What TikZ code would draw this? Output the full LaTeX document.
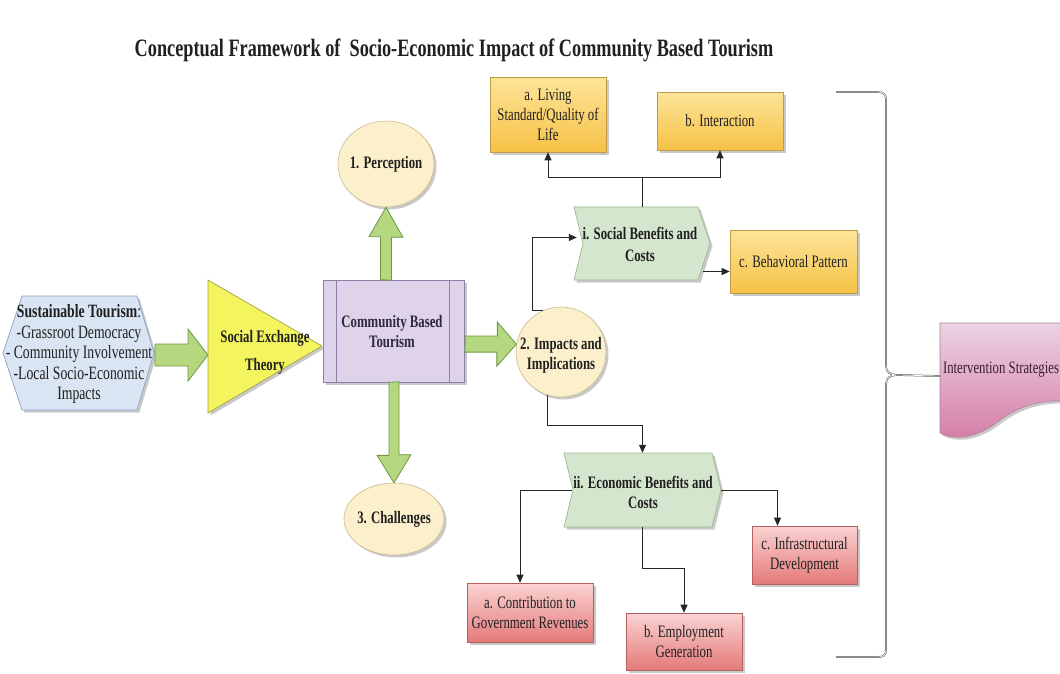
\documentclass[tikz,border=0pt]{standalone}
\usepackage{fontspec}
\setmainfont{Liberation Serif}[FakeStretch=0.73]
\usetikzlibrary{shapes.geometric,shadows,arrows.meta,calc}
\definecolor{textc}{HTML}{202020}
\definecolor{hexfill}{HTML}{DAE5F3}
\definecolor{hexdraw}{HTML}{8AA2C0}
\definecolor{trifill}{HTML}{F4F45E}
\definecolor{tridraw}{HTML}{A3A345}
\definecolor{cbtfill}{HTML}{DED3EA}
\definecolor{cbtdraw}{HTML}{8E7FA8}
\definecolor{garfill}{HTML}{B4D77F}
\definecolor{gardraw}{HTML}{6E9842}
\definecolor{ellfill}{HTML}{FCEFCB}
\definecolor{elldraw}{HTML}{CDB98A}
\definecolor{chevfill}{HTML}{D5E6CF}
\definecolor{chevdraw}{HTML}{9CB890}
\definecolor{otop}{HTML}{FDE49A}
\definecolor{obot}{HTML}{F6C246}
\definecolor{odraw}{HTML}{C09A45}
\definecolor{rtop}{HTML}{FAD3D2}
\definecolor{rbot}{HTML}{E47A79}
\definecolor{rdraw}{HTML}{B5605E}
\definecolor{itop}{HTML}{EBD3E3}
\definecolor{ibot}{HTML}{D57BA6}
\definecolor{idraw}{HTML}{A78598}
\definecolor{cbttext}{HTML}{30283C}
\definecolor{invtext}{HTML}{3A1E30}
\begin{document}
\begin{tikzpicture}[x=1pt,y=-1pt,
  txt/.style={font=\fontsize{17.5}{20}\selectfont, text=textc, align=center, inner sep=0pt},
  btxt/.style={font=\fontsize{17.5}{20}\selectfont\bfseries, text=textc, align=center, inner sep=0pt},
  shad/.style={drop shadow={shadow xshift=2.5pt, shadow yshift=-2.5pt, opacity=0.3, fill=black!70}},
  obox/.style={txt, draw=odraw, line width=0.6pt, top color=otop, bottom color=obot, shad},
  rbox/.style={txt, draw=rdraw, line width=0.6pt, top color=rtop, bottom color=rbot, shad},
  ellip/.style={ellipse, draw=elldraw, line width=0.6pt, fill=ellfill, inner sep=0pt, shad},
  garrow/.style={draw=gardraw, fill=garfill, line width=0.8pt, line join=miter},
  chev/.style={draw=chevdraw, fill=chevfill, line width=0.7pt, shad},
  conn/.style={draw=black!85, line width=1pt, -{Triangle[length=8pt,width=7pt]}},
  bracesty/.style={draw=black!70, double=white, double distance=0.7pt, line width=0.5pt}
]
\useasboundingbox (0,0) rectangle (1060,673);
\clip (0,0) rectangle (1060,673);

% title
\node[font=\fontsize{25}{28}\selectfont\bfseries, text=textc, inner sep=0pt] (title) at (454,50)
  {Conceptual Framework of\ \ Socio-Economic Impact of Community Based Tourism};

% hexagon
\path[draw=hexdraw, fill=hexfill, line width=0.7pt, shad]
  (3,353) coordinate (hexW) -- (22,296) -- (137,296) -- (154,353) coordinate (hexE) -- (137,410) -- (22,410) -- cycle;
% triangle
\path[draw=tridraw, fill=trifill, line width=0.7pt, shad]
  (208,280) -- (322,346) coordinate (triE) -- (208,413) -- cycle;
\coordinate (triW) at (208,355);
\coordinate (hexA) at (155,355);

% community based tourism
\node[draw=cbtdraw, fill=cbtfill, line width=0.7pt, minimum width=141, minimum height=102, inner sep=0pt, shad] (cbt) at (393.5,331) {};
\draw[cbtdraw, line width=0.7pt] ($(cbt.north west)+(14,0)$) -- ($(cbt.south west)+(14,0)$);
\draw[cbtdraw, line width=0.7pt] ($(cbt.north east)+(-15,0)$) -- ($(cbt.south east)+(-15,0)$);

% ellipses
\node[ellip, minimum width=96, minimum height=86] (perc) at (386,164) {};
\node[ellip, minimum width=100, minimum height=72] (chal) at (394,519) {};
\node[ellip, minimum width=90, minimum height=90] (imp) at (561,352) {};

% chevrons
\path[chev] (574,207) -- (698,207) -- (710,243.5) -- (698,280) -- (574,280) -- (583,243.5) -- cycle;
\path[chev] (564,453) -- (712,453) -- (721,490) -- (712,527) -- (564,527) -- (573,490) -- cycle;

% intervention shape
\path[draw=idraw, top color=itop, bottom color=ibot, line width=0.6pt, shad]
  (940,323) -- (1075,323) -- (1075,402)
  .. controls (1045,398) and (1020,405) .. (1000,420)
  .. controls (980,436) and (958,442) .. (940,433) -- cycle;
\coordinate (invw) at (940,376);

% green arrows
\draw[garrow] (hexA) ++(0,-11) -- ++(33,0) -- ++(0,-15) -- (triW) -- ++(-20,26) -- ++(0,-15) -- ++(-33,0) -- cycle;
\coordinate (ua) at ($(cbt.north)+(-7.5,0)$);
\draw[garrow] (ua) ++(-5.5,0) -- ++(0,-43) -- ++(-11.5,0) -- (perc.south) -- ++(17,30) -- ++(-11.5,0) -- ++(0,43) -- cycle;
\coordinate (da) at ($(cbt.south)+(0.5,0)$);
\draw[garrow] (da) ++(-5,0) -- ++(0,73) -- ++(-12,0) -- (chal.north) -- ++(17,-28) -- ++(-12,0) -- ++(0,-73) -- cycle;
\coordinate (ra) at ($(cbt.east)+(1,13)$);
\draw[garrow] (ra) ++(0,-8) -- ++(32,0) -- ++(0,-14) -- (imp.170) -- ++(-19.5,22) -- ++(0,-14) -- ++(-32,0) -- cycle;

% text nodes
\node[txt, font=\fontsize{18.8}{20.5}\selectfont] (sust) at (79,354)
  {\textbf{Sustainable Tourism}:\\-Grassroot Democracy\\- Community Involvement\\-Local Socio-Economic\\Impacts};
\node[btxt] (set) at (265,352) {Social Exchange\\[8pt]Theory};
\node[btxt, text=cbttext] (cbtt) at (392,332) {Community Based\\Tourism};
\node[btxt] (perct) at (perc) {1. Perception};
\node[btxt] (chalt) at (chal) {3. Challenges};
\node[btxt] (impt) at (561,355) {2. Impacts and\\Implications};
\node[btxt, minimum width=136, minimum height=73] (soc) at (642,243.5) {};
\node[btxt, font=\fontsize{17.5}{22}\selectfont\bfseries] (soct) at (640,244) {i. Social Benefits and\\Costs};
\node[btxt, minimum width=157, minimum height=74] (eco) at (642.5,490) {};
\node[btxt] (ecot) at (643,492) {ii. Economic Benefits and\\Costs};
\node[txt, text=invtext] (invt) at (1001,370) {Intervention Strategies};

% orange boxes
\node[obox, minimum width=116, minimum height=75] (living) at (548,114.5) {a. Living\\Standard/Quality of\\Life};
\node[obox, minimum width=126, minimum height=58] (inter) at (720,121) {b. Interaction};
\node[obox, minimum width=127, minimum height=63] (behav) at (793.5,261.5) {c. Behavioral Pattern};
% red boxes
\node[rbox, minimum width=126, minimum height=59] (reda) at (530,612.5) {a. Contribution to\\Government Revenues};
\node[rbox, minimum width=116, minimum height=57] (redb) at (684,641.5) {b. Employment\\Generation};
\node[rbox, minimum width=105, minimum height=58] (redc) at (804.5,555) {c. Infrastructural\\Development};

% connectors
\draw[conn] (soc.north) -- ++(0,-29) coordinate (sj) -| (living.south);
\draw[conn] (sj) -| (inter.south);
\draw[conn] ($(soc.east)+(-7,28)$) coordinate (sb) -- (sb -| behav.west);
\draw[conn] (imp.114) -- ++(-10,0) |- ($(soc.west)+(3,-6)$);
\draw[conn] (imp.253) -- ++(0,30) -| (eco.north);
\draw[conn] ($(eco.west)+(8,0)$) -| ($(reda.north)+(-10,0)$);
\draw[conn] (eco.south) -- ++(0,41) -| (redb.north);
\draw[conn] (eco.east) -| ($(redc.north)+(-27,0)$);

% brace
\draw[bracesty] (836,92) -- (878,92) .. controls (884,92) and (886,95) .. (886,100)
  -- (886,366) .. controls (886,372) and (890,375) .. (897,375) coordinate (btip)
  .. controls (890,375) and (886,378) .. (886,384)
  -- (886,649) .. controls (886,655) and (884,657) .. (878,657) -- (836,657);
\draw[bracesty] (btip) -- (invw);
\end{tikzpicture}
\end{document}
